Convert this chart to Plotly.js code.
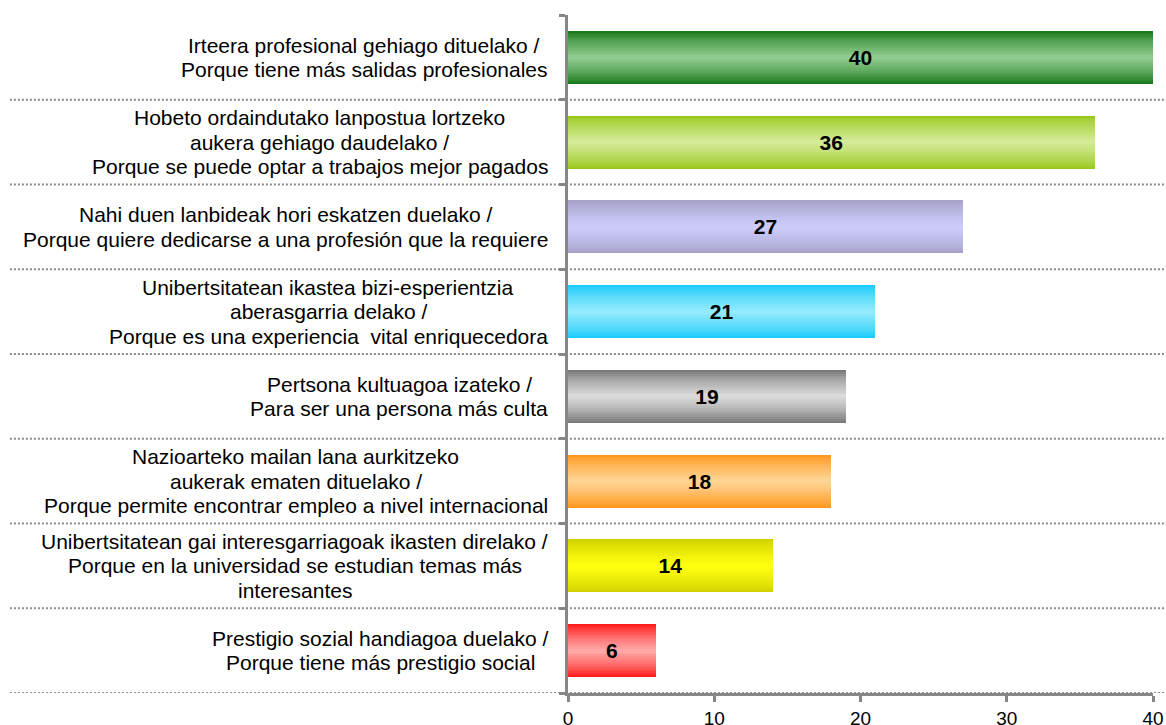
<!DOCTYPE html>
<html>
<head>
<meta charset="utf-8">
<script src="https://cdn.plot.ly/plotly-3.0.1.min.js"></script>
<style>html,body{margin:0;padding:0;background:#fff;}#chart{width:1166px;height:725px;}</style>
</head>
<body>
<div id="chart"></div>
<script>
// ---- data ----
const categories = [
  "Irteera profesional gehiago dituelako /<br>Porque tiene más salidas profesionales",
  "Hobeto ordaindutako lanpostua lortzeko<br>aukera gehiago daudelako /<br>Porque se puede optar a trabajos mejor pagados",
  "Nahi duen lanbideak hori eskatzen duelako /<br>Porque quiere dedicarse a una profesión que la requiere",
  "Unibertsitatean ikastea bizi-esperientzia<br>aberasgarria delako /<br>Porque es una experiencia  vital enriquecedora",
  "Pertsona kultuagoa izateko /<br>Para ser una persona más culta",
  "Nazioarteko mailan lana aurkitzeko<br>aukerak ematen dituelako /<br>Porque permite encontrar empleo a nivel internacional",
  "Unibertsitatean gai interesgarriagoak ikasten direlako /<br>Porque en la universidad se estudian temas más<br>interesantes",
  "Prestigio sozial handiagoa duelako /<br>Porque tiene más prestigio social"
];
const values = [40, 36, 27, 21, 19, 18, 14, 6];
const xTicks = [0, 10, 20, 30, 40];

// ---- styles ----
const FONT = 'Liberation Sans, Arial, sans-serif';
const labelSize = 21;
const lineGap = 24.5;
const edgeColors   = ["#1c7a1c", "#99c91c", "#a6a2c8", "#1ccbfa", "#7a7a7a", "#ff981c", "#d2d200", "#ff1c1c"];
const centerColors = ["#8fcc8f", "#d3ea96", "#cccbfc", "#94eafe", "#dadada", "#ffd393", "#ffff10", "#ffa8a8"];
const barWidth = 0.625;
const layers = 14;

function hexToRgb(h){ h=h.replace('#',''); return [parseInt(h.substr(0,2),16),parseInt(h.substr(2,2),16),parseInt(h.substr(4,2),16)]; }
function mix(a,b,t){ const A=hexToRgb(a),B=hexToRgb(b); return 'rgb('+A.map((v,i)=>Math.round(v+(B[i]-v)*t)).join(',')+')'; }

const idx = categories.map((c,i)=>i);
const traces = [];
for (let k = 0; k < layers; k++) {
  const t = k/(layers-1);
  const frac = 1 - k/layers;
  traces.push({
    type: 'bar', orientation: 'h',
    x: values, y: idx,
    width: barWidth*frac,
    marker: {color: edgeColors.map((e,i)=>mix(e, centerColors[i], Math.pow(t,0.8))), line:{width:0}},
    hoverinfo: 'skip', showlegend: false
  });
}
traces.push({
  type: 'bar', orientation: 'h',
  x: values, y: idx, width: barWidth,
  marker: {color: 'rgba(0,0,0,0)', line:{width:0}},
  text: values.map(String), textposition: 'inside', insidetextanchor: 'middle',
  textfont: {family: FONT, size: 21, color: '#000', weight: 'bold'},
  hoverinfo: 'skip', showlegend: false
});

const shapes = [];
for (let i = 0; i < categories.length; i++) {
  shapes.push({
    type: 'line', xref: 'paper', yref: 'y',
    x0: -0.954, x1: 1.03, y0: i + 0.5, y1: i + 0.5,
    line: {color: '#8c8c8c', width: 2, dash: '2px,2px'}, layer: 'below'
  });
}

// label lines: centred on one another, block right-aligned next to the axis
const ctx = document.createElement('canvas').getContext('2d');
ctx.font = labelSize + 'px "Liberation Sans", Arial, sans-serif';
const annotations = [];
categories.forEach((c, i) => {
  const lines = c.split('<br>');
  const widths = lines.map(l => ctx.measureText(l).width);
  const maxW = Math.max(...widths);
  lines.forEach((l, j) => {
    annotations.push({
      xref: 'paper', yref: 'y', x: 0, y: i,
      xshift: -18 - (maxW - widths[j]) / 2,
      yshift: -(j - (lines.length - 1) / 2) * lineGap,
      xanchor: 'right', yanchor: 'middle',
      text: l, showarrow: false,
      font: {family: FONT, size: labelSize, color: '#000'}
    });
  });
});

const layout = {
  width: 1166, height: 725,
  margin: {l: 568, r: 13, t: 15, b: 32},
  paper_bgcolor: '#fff', plot_bgcolor: '#fff',
  barmode: 'overlay', bargap: 0,
  font: {family: FONT, size: 18, color: '#000'},
  xaxis: {
    range: [0, 40], tickvals: xTicks, ticktext: xTicks.map(String),
    showgrid: false, zeroline: false, showline: true, linecolor: '#868686', linewidth: 3,
    ticks: 'outside', ticklen: 6, tickwidth: 3, tickcolor: '#868686',
    tickfont: {size: 19, color: '#000'}, fixedrange: true
  },
  yaxis: {
    range: [categories.length - 0.5, -0.5],
    tickvals: idx.map(i=>i-0.5).concat([categories.length-0.5]),
    showticklabels: false, showgrid: false, zeroline: false,
    showline: true, linecolor: '#868686', linewidth: 3,
    ticks: 'outside', ticklen: 6, tickwidth: 3, tickcolor: '#868686', fixedrange: true
  },
  shapes: shapes,
  annotations: annotations
};

Plotly.newPlot('chart', traces, layout, {displayModeBar: false, staticPlot: true});
</script>
</body>
</html>
